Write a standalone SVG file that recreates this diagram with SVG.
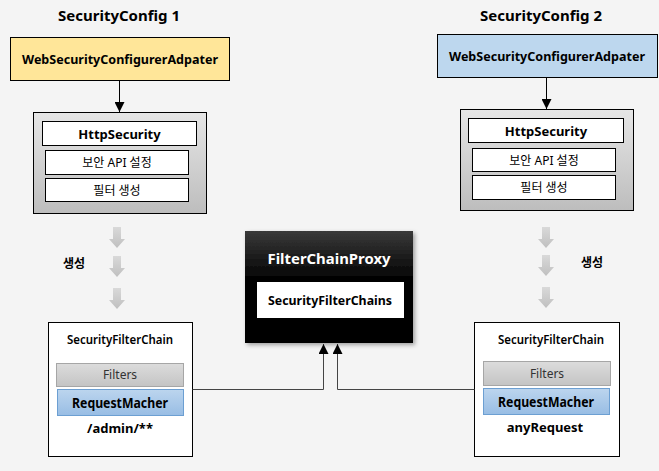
<svg xmlns="http://www.w3.org/2000/svg" width="659" height="471" viewBox="0 0 659 471">
<defs>
<linearGradient id="gGray" x1="0" y1="0" x2="0" y2="1"><stop offset="0" stop-color="#E6E6E6"/><stop offset="1" stop-color="#BDBDBD"/></linearGradient>
<linearGradient id="gFilter" x1="0" y1="0" x2="0" y2="1"><stop offset="0" stop-color="#DCDCDC"/><stop offset="1" stop-color="#C4C4C4"/></linearGradient>
<linearGradient id="gBlue" x1="0" y1="0" x2="0" y2="1"><stop offset="0" stop-color="#BCD5EE"/><stop offset="1" stop-color="#98BDE4"/></linearGradient>
<linearGradient id="gBlack" x1="0" y1="0" x2="0" y2="1"><stop offset="0" stop-color="#3A3A3A"/><stop offset="0.45" stop-color="#000"/><stop offset="1" stop-color="#000"/></linearGradient>
<linearGradient id="gArrow" x1="0" y1="0" x2="0" y2="1"><stop offset="0" stop-color="#D9D9D9"/><stop offset="1" stop-color="#BFBFBF"/></linearGradient>
<filter id="shadow" x="-10%" y="-10%" width="125%" height="125%"><feDropShadow dx="2" dy="2" stdDeviation="2" flood-color="#000" flood-opacity="0.35"/></filter>
<marker id="ah" markerWidth="10" markerHeight="10" refX="10" refY="5" orient="auto" markerUnits="userSpaceOnUse" viewBox="0 0 10 10"><path d="M0,0 L10,5 L0,10 Z" fill="#000"/></marker>
<path id="blk" d="M-4,0 H4 V12 H8 L0,21 L-8,12 H-4 Z"/>
</defs>
<style>
text{font-family:"Noto Sans","Noto Sans CJK KR",sans-serif;text-anchor:middle;dominant-baseline:central;fill:#000}
.title{font-size:15px;font-weight:bold}
.b13{font-size:13px;font-weight:bold}
.n12{font-size:12px}
.line{stroke:#000;stroke-width:1;fill:none}
.box{stroke:#000;stroke-width:1}
</style>
<rect width="659" height="471" fill="#F4F4F4"/>

<g id="config1">
<text class="title" x="119" y="15" textLength="122" lengthAdjust="spacingAndGlyphs">SecurityConfig 1</text>
</g>
<g id="config2">
<text class="title" x="541" y="15" textLength="122" lengthAdjust="spacingAndGlyphs">SecurityConfig 2</text>
</g>

<g id="adapter1">
<rect class="box" x="10.5" y="37.5" width="219" height="43" fill="#FFE699"/>
<text class="b13" x="120" y="58.5" textLength="196" lengthAdjust="spacingAndGlyphs">WebSecurityConfigurerAdpater</text>
</g>
<g id="adapter2">
<rect class="box" x="437.5" y="34.5" width="220" height="43" fill="#BDD7EE"/>
<text class="b13" x="547" y="55.5" textLength="196" lengthAdjust="spacingAndGlyphs">WebSecurityConfigurerAdpater</text>
</g>

<g id="http1">
<rect class="box" x="33.5" y="112.5" width="173" height="101" fill="url(#gGray)"/>
<rect class="box" x="42.5" y="121.5" width="154" height="24" fill="#fff"/>
<text class="b13" x="119.5" y="133.5">HttpSecurity</text>
<rect class="box" x="45.5" y="150.5" width="143" height="24" fill="#fff"/>
<text class="n12" x="117" y="162.5">보안 API 설정</text>
<rect class="box" x="45.5" y="178.5" width="143" height="23" fill="#fff"/>
<text class="n12" x="117" y="190">필터 생성</text>
</g>
<g id="http2">
<rect class="box" x="460.5" y="109.5" width="173" height="101" fill="url(#gGray)"/>
<rect class="box" x="468.5" y="118.5" width="155" height="24" fill="#fff"/>
<text class="b13" x="546" y="130.5">HttpSecurity</text>
<rect class="box" x="472.5" y="148.5" width="143" height="23" fill="#fff"/>
<text class="n12" x="544" y="160">보안 API 설정</text>
<rect class="box" x="472.5" y="175.5" width="143" height="24" fill="#fff"/>
<text class="n12" x="544" y="187.5">필터 생성</text>
</g>

<g id="create1">
<use href="#blk" x="117" y="227" fill="url(#gArrow)"/>
<use href="#blk" x="117" y="256" fill="url(#gArrow)"/>
<use href="#blk" x="117" y="288" fill="url(#gArrow)"/>
<text x="74" y="263" style="font-size:12px;font-weight:bold">생성</text>
</g>
<g id="create2">
<use href="#blk" x="546" y="227" fill="url(#gArrow)"/>
<use href="#blk" x="546" y="255" fill="url(#gArrow)"/>
<use href="#blk" x="546" y="287" fill="url(#gArrow)"/>
<text x="592" y="262" style="font-size:12px;font-weight:bold">생성</text>
</g>

<g id="chain1">
<rect class="box" x="48.5" y="322.5" width="144" height="134" fill="#fff"/>
<text x="120" y="339" style="font-size:12px;font-weight:600" textLength="106" lengthAdjust="spacingAndGlyphs">SecurityFilterChain</text>
<rect x="56.5" y="363.5" width="127" height="23" fill="url(#gFilter)" stroke="#A6A6A6"/>
<text class="n12" x="120" y="374.5" style="fill:#333">Filters</text>
<rect x="57.5" y="389.5" width="126" height="26" fill="url(#gBlue)" stroke="#6C9FD2"/>
<text x="120" y="402" style="font-size:14px;font-weight:bold" textLength="96" lengthAdjust="spacingAndGlyphs">RequestMacher</text>
<text class="b13" x="120" y="428">/admin/**</text>
</g>
<g id="chain2">
<rect class="box" x="474.5" y="322.5" width="145" height="134" fill="#fff"/>
<text x="551" y="339" style="font-size:12px;font-weight:600" textLength="106" lengthAdjust="spacingAndGlyphs">SecurityFilterChain</text>
<rect x="483.5" y="361.5" width="127" height="24" fill="url(#gFilter)" stroke="#A6A6A6"/>
<text class="n12" x="547" y="373.5" style="fill:#333">Filters</text>
<rect x="483.5" y="388.5" width="126" height="26" fill="url(#gBlue)" stroke="#6C9FD2"/>
<text x="546" y="401" style="font-size:14px;font-weight:bold" textLength="96" lengthAdjust="spacingAndGlyphs">RequestMacher</text>
<text class="b13" x="545" y="427">anyRequest</text>
</g>

<g id="proxy">
<rect x="245" y="231" width="168" height="112" fill="url(#gBlack)" filter="url(#shadow)"/>
<text x="329" y="258" style="font-size:15px;font-weight:bold;fill:#fff" textLength="123" lengthAdjust="spacingAndGlyphs">FilterChainProxy</text>
<rect x="257" y="282" width="147" height="36" fill="#fff"/>
<text class="b13" x="330" y="300" textLength="124" lengthAdjust="spacingAndGlyphs">SecurityFilterChains</text>
</g>

<g id="connectors">
<line class="line" x1="119.5" y1="80.5" x2="119.5" y2="112" marker-end="url(#ah)"/>
<line class="line" x1="546.5" y1="77.5" x2="546.5" y2="109" marker-end="url(#ah)"/>
<polyline class="line" points="192.5,389.5 323.5,389.5 323.5,344" marker-end="url(#ah)" style="stroke:#444"/>
<polyline class="line" points="474.5,389.5 337.5,389.5 337.5,344" marker-end="url(#ah)" style="stroke:#444"/>
</g>
</svg>
